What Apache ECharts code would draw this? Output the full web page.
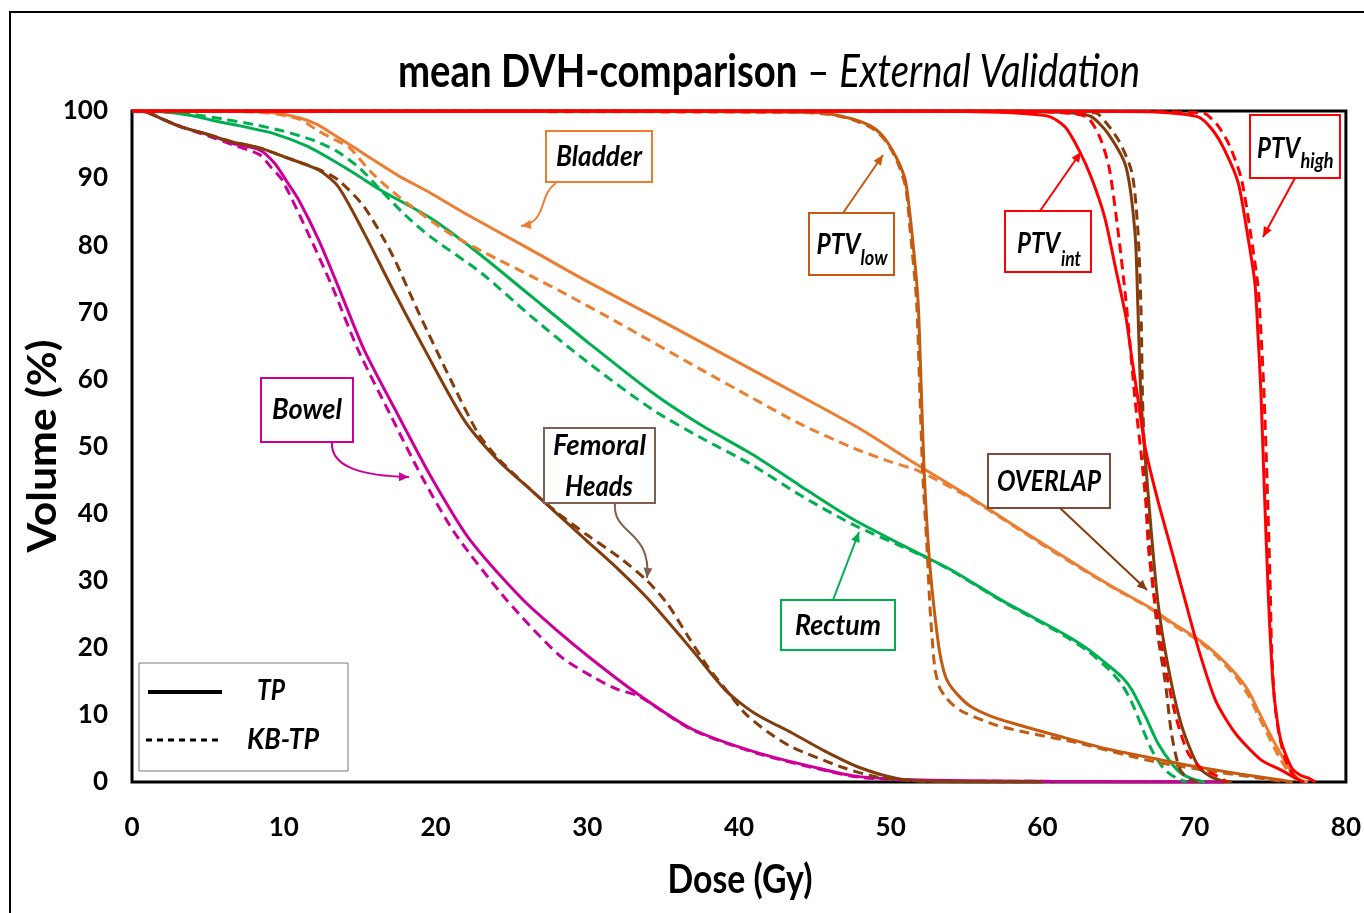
<!DOCTYPE html>
<html>
<head>
<meta charset="utf-8">
<script src="https://cdn.jsdelivr.net/npm/echarts@6/dist/echarts.min.js"></script>
<style>
  html, body { margin: 0; padding: 0; background: #fff; }
  #chart { width: 1364px; height: 913px; }
</style>
</head>
<body>
<div id="chart"></div>
<script>
// dose axis ticks (Gy) and volume axis ticks (%)
const doseTicks = [0, 10, 20, 30, 40, 50, 60, 70, 80];
const volumeTicks = [0, 10, 20, 30, 40, 50, 60, 70, 80, 90, 100];

// [dose Gy, volume %]
const bowelTP = [[0,100],[1,99.8],[2,98.8],[3.3,97.6],[5,96.5],[6.6,95.2],[8.4,94.2],[9.4,92.2],[10.2,89.5],[11,86.7],[12.3,80.8],[13.6,73.8],[15.3,64.4],[17.6,54.4],[19.7,45.5],[22.2,36.3],[25.7,27.3],[28,22.6],[30.3,18.3],[33.4,13],[36.9,7.9],[41.3,4.3],[45.7,1.8],[47.9,0.8],[52,0.3],[60,0.1],[72,0]];
const bowelKB = [[0,100],[1,99.8],[2,98.8],[3.3,97.6],[5,96.3],[6.6,95],[8.4,93.5],[9.2,91.5],[9.9,89.7],[11.6,81.8],[13.2,73.8],[14.9,64.4],[17.1,54.4],[19.1,45.5],[21.3,37],[24.7,27.1],[28.2,18.8],[30.5,15.5],[32,13.8],[33.4,12.8],[36.9,7.8],[41.3,4.2],[45.7,1.7],[48,0.7],[52,0.2],[60,0.1],[72,0]];

const femoralTP = [[0,100],[1,99.8],[2,98.8],[3.3,97.6],[5,96.5],[6.6,95.4],[8.4,94.5],[10,93.2],[12.3,91.2],[13.6,88.7],[15.3,81.8],[17.1,73.8],[19.3,64.4],[21.9,53.9],[24.1,48],[26.3,43.5],[28,40],[29.9,36.1],[32,31.8],[34,27.3],[36.9,19.7],[39.1,13.7],[41,10.3],[43.5,7.3],[45.5,4.8],[47.9,2.2],[50.5,0.5],[53,0.1],[60,0]];
const femoralKB = [[0,100],[1,99.8],[2,98.8],[3.3,97.6],[5,96.5],[6.6,95.4],[8.4,94.5],[10,93.2],[12.3,91.3],[13.6,89.7],[15.3,85.7],[17.1,78.8],[18.9,69.9],[21.1,59.5],[22.8,52],[24.1,48.3],[26.3,43.5],[28,40.2],[30,36.8],[32.1,33.5],[33.9,30.1],[35.3,26.5],[36.7,21.5],[38,17],[39.3,13.3],[40.5,10],[42,7.3],[43.5,5.2],[46.8,2.2],[49,0.8],[52,0.1],[60,0]];

const rectumTP = [[0,100],[2,99.9],[4,99.3],[5.5,98.5],[7.5,97.6],[9.4,96.6],[11.5,94.8],[13.2,92.7],[14.8,90.5],[16.4,88.2],[19.7,84],[23,78.5],[26.3,72.4],[30,65.6],[34.3,58],[37.5,53.2],[40.9,48.8],[44,44.2],[47.4,39.3],[51.8,34.1],[54,31.6],[57.3,27.1],[61.3,22.2],[63,19.8],[64.5,17.1],[65.3,15.5],[65.9,13.7],[66.8,9.7],[67.6,5.8],[68.5,2.8],[69.2,1.2],[70,0.4],[70.7,0]];
const rectumKB = [[0,100],[2,99.9],[4,99.5],[6,98.8],[8,98],[10,97],[12,95.6],[13.5,94],[15,91.5],[16.4,88.2],[18,84.5],[19.7,81.2],[23,75.9],[26.3,69.4],[30,62.6],[34.3,55.5],[37.5,51.3],[40.9,47.2],[44,42.8],[47.4,38.5],[51.8,34],[54,31.5],[57.3,27],[61.3,22],[63,19.5],[64.5,16.5],[65.3,14.3],[65.9,11.8],[66.5,8.5],[67.2,4.8],[68,2],[68.8,0.6],[69.5,0]];

const bladderTP = [[0,100],[5,100],[9,99.8],[11,99],[12.2,98],[13.2,96.6],[14.2,95.2],[15.3,93.6],[17.6,90.3],[19.5,88],[21.9,84.8],[26.3,79.3],[30,74.6],[35,68.6],[40,62.5],[45.3,56],[48,52.6],[51.8,47.2],[55,42.8],[58,38.4],[60.4,35],[63,31.3],[65,28.6],[67,26.1],[68.5,23.8],[70.3,21.2],[71.5,19],[72.7,16.2],[73.6,13.5],[74.2,10.7],[74.8,8],[75.3,5.8],[75.8,3.8],[76.2,2.2],[76.6,1],[77,0.3],[77.5,0]];
const bladderKB = [[0,100],[5,100],[9,99.7],[11,98.8],[12.3,97],[13.3,95.8],[14.3,94.6],[15.8,90.8],[17.6,87.2],[20.9,81.8],[24.1,77.9],[26.3,75.4],[28.6,72.7],[32,68.5],[37.4,61.6],[40.9,57.2],[44,53.4],[47.4,49.9],[50,47.7],[51.8,46.4],[55,42.6],[58,38.3],[60.4,34.8],[63,31.2],[65,28.5],[67,26],[68.5,23.6],[70.3,21],[71.5,18.7],[72.7,15.8],[73.6,12.8],[74.2,10],[74.8,7.3],[75.3,5],[75.7,3.3],[76.2,1.6],[76.6,0.6],[77,0]];

const ptvLowTP = [[0,100],[30,100],[40,99.9],[44,99.8],[45.9,99.6],[47.5,98.8],[48.8,97.6],[49.5,96.2],[50.1,94.2],[50.6,92],[51,89.3],[51.4,81.8],[51.8,71.8],[52,59.5],[52.2,46.5],[52.5,34.6],[52.8,27.1],[53.2,19.7],[53.5,16.5],[53.8,14.8],[54.5,12.8],[55.3,11.2],[56.5,9.9],[58,8.8],[61.3,6.7],[64.5,4.8],[67.8,3.3],[70,2.3],[71.4,1.8],[73,1.2],[75.7,0.3],[76.5,0]];
const ptvLowKB = [[0,100],[44,99.8],[45.9,99.5],[47.5,98.7],[48.8,97.4],[49.5,96],[50.1,94],[50.6,91.5],[51,88.5],[51.3,81.8],[51.7,71.8],[51.9,59.5],[52.1,46.5],[52.4,34.6],[52.6,25.6],[52.9,17.1],[53.2,14.2],[53.6,12.7],[54.2,11.3],[54.9,10.3],[56.9,8.5],[59.1,7.3],[62.4,5.8],[66.8,3.3],[70,2],[73,1],[75.5,0.2],[76.2,0]];

const ptvIntTP = [[0,100],[50,100],[57.1,99.8],[60.4,99.2],[61.5,97.6],[62.4,94.2],[63.2,90.2],[64.1,84.2],[64.8,76.8],[65.5,69.3],[65.9,63],[66.3,57],[66.8,49.5],[67.6,42],[68.5,34.6],[69.4,27.1],[70.3,19.7],[71.4,12.2],[72.7,7.3],[74.4,3.3],[75.7,1.8],[76.5,0.8],[77.2,0]];
const ptvIntKB = [[0,100],[55,100],[60,99.9],[62,99.6],[63,99],[63.8,96],[64.4,91.5],[65,81.8],[65.5,71.8],[65.9,62],[66.1,57],[66.5,49],[66.8,42],[67,34.6],[67.4,27.1],[68.1,17.1],[68.8,9.7],[69.6,4.3],[70.5,2],[71.4,1],[72.2,0]];

const overlapTP = [[0,100],[55,100],[60,99.9],[62,99.7],[63.2,99.2],[64.3,96.7],[65.5,91.7],[66.1,81.8],[66.3,70],[66.5,57],[67,42],[67.6,27],[68.3,17],[69.2,8.2],[70.3,2.2],[71.1,0.8],[71.8,0.2],[72.5,0]];
const overlapKB = [[0,100],[55,100],[61,99.9],[63,99.8],[63.7,99.5],[65,95.7],[65.9,90.8],[66.3,81.8],[66.5,70],[66.6,57],[66.8,45],[67,37],[67.6,22],[68.1,14.8],[68.5,7.3],[69,2.2],[69.5,0.7],[70.2,0]];

const ptvHighTP = [[0,100],[60,100],[67,99.9],[68.5,99.7],[70.3,99.1],[71.2,97.2],[72,94.2],[72.9,89.3],[73.5,81.8],[74,74.4],[74.2,66.9],[74.4,58],[74.6,45],[74.9,27.1],[75.1,18],[75.3,12.2],[75.7,6.3],[76.4,2.2],[77,1],[77.5,0.6],[78,0]];
const ptvHighKB = [[0,100],[65,100],[68,99.9],[69.5,99.8],[70.6,99.7],[71.5,98],[72.3,95],[73.1,90],[73.7,82],[74.2,74],[74.4,67],[74.6,58],[74.8,45],[75,30],[75.1,20],[75.3,12],[75.6,7],[76,3.5],[76.4,1.5],[76.8,0.4],[77.2,0]];

const FONT = 'Lato, "Open Sans", sans-serif';
const C = {
    bowel: '#CC0099', femoral: '#843C0C', rectum: '#00B050', bladder: '#ED7D31',
    ptvLow: '#C55A11', red: '#FF0000', overlap: '#843C0C'
};

// canvas measure, used to squeeze text to the widths of the picture
const measureCtx = document.createElement('canvas').getContext('2d');
function textWidth(str, font) {
    measureCtx.font = font;
    return measureCtx.measureText(str).width;
}

function curve(name, data, color, dashed) {
    return {
        name: name,
        type: 'line',
        data: data,
        symbol: 'none',
        smooth: 0.25,
        silent: true,
        lineStyle: {color: color, width: 3, type: dashed ? [10, 6] : 'solid'}
    };
}

// text centred at (cx, cy), squeezed to width w
function label(str, cx, cy, size, w, opt) {
    opt = opt || {};
    let font = (opt.italic === false ? 'normal' : 'italic') + ' ' + (opt.weight || 'bold') + ' ' + size + 'px ' + FONT;
    return {
        type: 'text', x: cx, y: cy, z: 110,
        rotation: opt.rotation || 0,
        scaleX: w / textWidth(str, font),
        style: {text: str, font: font, fill: '#000', align: 'center', verticalAlign: 'middle'}
    };
}

function box(x1, y1, x2, y2, color, lw) {
    return {
        type: 'rect', z: 105,
        shape: {x: x1, y: y1, width: x2 - x1, height: y2 - y1},
        style: {fill: '#fff', stroke: color, lineWidth: lw || 2}
    };
}

function head(tip, from, color) {
    let dx = tip[0] - from[0], dy = tip[1] - from[1];
    let L = Math.hypot(dx, dy), ux = dx / L, uy = dy / L;
    let len = 10, hw = 4.5;
    let bx = tip[0] - ux * len, by = tip[1] - uy * len;
    return {
        type: 'polygon', z: 106,
        shape: {points: [tip, [bx - uy * hw, by + ux * hw], [bx + uy * hw, by - ux * hw]]},
        style: {fill: color}
    };
}

function straightArrow(from, to, color) {
    return [
        {type: 'line', z: 106, shape: {x1: from[0], y1: from[1], x2: to[0], y2: to[1]},
            style: {stroke: color, lineWidth: 2}},
        head(to, from, color)
    ];
}

function curvedArrow(from, c1, c2, to, color) {
    return [
        {type: 'bezierCurve', z: 106,
            shape: {x1: from[0], y1: from[1], cpx1: c1[0], cpy1: c1[1], cpx2: c2[0], cpy2: c2[1], x2: to[0], y2: to[1]},
            style: {stroke: color, lineWidth: 2, fill: null}},
        head(to, c2, color)
    ];
}

// title, pieces measured so the whole line fits
const titleSize = 46;
const tA = 'mean DVH-comparison', tB = ' \u2013 ', tC = 'External Validation';
const fA = 'normal bold ' + titleSize + 'px ' + FONT;
const fB = 'normal normal ' + titleSize + 'px ' + FONT;
const fC = 'italic normal ' + titleSize + 'px ' + FONT;
const titleScale = 742 / (textWidth(tA, fA) + textWidth(tB, fB) + textWidth(tC, fC));

let graphics = [
    // outer frame of the figure
    {type: 'polyline', z: 1, shape: {points: [[10, 913], [10, 12], [1364, 12]]},
        style: {stroke: '#000', lineWidth: 2, fill: null}},
    {
        type: 'text', x: 769, y: 72, z: 110, scaleX: titleScale,
        style: {
            text: '{a|' + tA + '}{b|' + tB + '}{c|' + tC + '}',
            align: 'center', verticalAlign: 'middle', fill: '#000',
            rich: {
                a: {font: fA, fill: '#000'},
                b: {font: fB, fill: '#000'},
                c: {font: fC, fill: '#000'}
            }
        }
    },
    label('Volume (%)', 43, 446, 40, 213, {italic: false, rotation: Math.PI / 2}),
    label('Dose (Gy)', 740, 880, 40, 145, {italic: false}),

    // Bladder
    box(546, 131, 652, 182, C.bladder),
    label('Bladder', 599, 157, 29, 86),
    ...curvedArrow([556, 183], [538, 195], [548, 222], [521, 226], C.bladder),

    // PTV low
    box(809, 213, 894, 275, C.ptvLow),
    label('PTV', 838.5, 245, 29, 44),
    label('low', 874, 258, 21, 27),
    ...straightArrow([843, 213], [883, 155], C.ptvLow),

    // PTV int
    box(1005, 211, 1091, 272, C.red),
    label('PTV', 1038.5, 244, 29, 43),
    label('int', 1071, 259, 21, 20),
    ...straightArrow([1040, 211], [1081, 152], C.red),

    // PTV high
    box(1250, 115, 1340, 178, C.red),
    label('PTV', 1278.5, 149, 29, 43),
    label('high', 1317, 161, 21, 33),
    ...straightArrow([1295, 178], [1263, 237], C.red),

    // Bowel
    box(261, 378, 353, 442, C.bowel),
    label('Bowel', 307, 410, 29, 70),
    ...curvedArrow([332, 442], [330, 468], [365, 476], [409, 477], C.bowel),

    // Femoral heads
    box(544, 428, 655, 503, '#7F6050'),
    label('Femoral', 599.5, 446, 29, 93),
    label('Heads', 599, 487, 29, 68),
    ...curvedArrow([615, 503], [612, 535], [652, 530], [647, 578], '#7F6050'),

    // OVERLAP
    box(988, 454, 1110, 508, '#7B4A3A'),
    label('OVERLAP', 1049, 482, 29, 104),
    ...straightArrow([1060, 508], [1147, 590], C.overlap),

    // Rectum
    box(781, 600, 895, 650, C.rectum),
    label('Rectum', 838, 626, 29, 86),
    ...straightArrow([833, 600], [859, 532], C.rectum),

    // legend
    box(139, 663, 348, 771, '#777', 1),
    {type: 'line', z: 106, shape: {x1: 148, y1: 692, x2: 222, y2: 692}, style: {stroke: '#000', lineWidth: 4}},
    {type: 'line', z: 106, shape: {x1: 146, y1: 740, x2: 219, y2: 740}, style: {stroke: '#000', lineWidth: 3, lineDash: [6, 5]}},
    label('TP', 271, 691, 29, 28),
    label('KB-TP', 283, 740, 29, 72)
];

const chart = echarts.init(document.getElementById('chart'));
chart.setOption({
    animation: false,
    backgroundColor: '#fff',
    grid: {left: 132, top: 111, width: 1216, height: 671, show: true, borderColor: '#000', borderWidth: 3, backgroundColor: 'transparent'},
    xAxis: {
        type: 'value', min: doseTicks[0], max: doseTicks[doseTicks.length - 1], interval: 10,
        axisLine: {show: false}, axisTick: {show: false}, splitLine: {show: false},
        axisLabel: {color: '#000', fontFamily: FONT, fontWeight: 'bold', fontSize: 26, margin: 33}
    },
    yAxis: {
        type: 'value', min: volumeTicks[0], max: volumeTicks[volumeTicks.length - 1], interval: 10,
        axisLine: {show: false}, axisTick: {show: false}, splitLine: {show: false},
        axisLabel: {color: '#000', fontFamily: FONT, fontWeight: 'bold', fontSize: 26, margin: 24}
    },
    series: [
        curve('Bowel TP', bowelTP, C.bowel, false),
        curve('Bowel KB-TP', bowelKB, C.bowel, true),
        curve('Femoral TP', femoralTP, C.femoral, false),
        curve('Femoral KB-TP', femoralKB, C.femoral, true),
        curve('Rectum TP', rectumTP, C.rectum, false),
        curve('Rectum KB-TP', rectumKB, C.rectum, true),
        curve('Bladder TP', bladderTP, C.bladder, false),
        curve('Bladder KB-TP', bladderKB, C.bladder, true),
        curve('PTV low TP', ptvLowTP, C.ptvLow, false),
        curve('PTV low KB-TP', ptvLowKB, C.ptvLow, true),
        curve('OVERLAP TP', overlapTP, C.overlap, false),
        curve('OVERLAP KB-TP', overlapKB, C.overlap, true),
        curve('PTV int TP', ptvIntTP, C.red, false),
        curve('PTV int KB-TP', ptvIntKB, C.red, true),
        curve('PTV high TP', ptvHighTP, C.red, false),
        curve('PTV high KB-TP', ptvHighKB, C.red, true)
    ],
    graphic: graphics
});
</script>
</body>
</html>
